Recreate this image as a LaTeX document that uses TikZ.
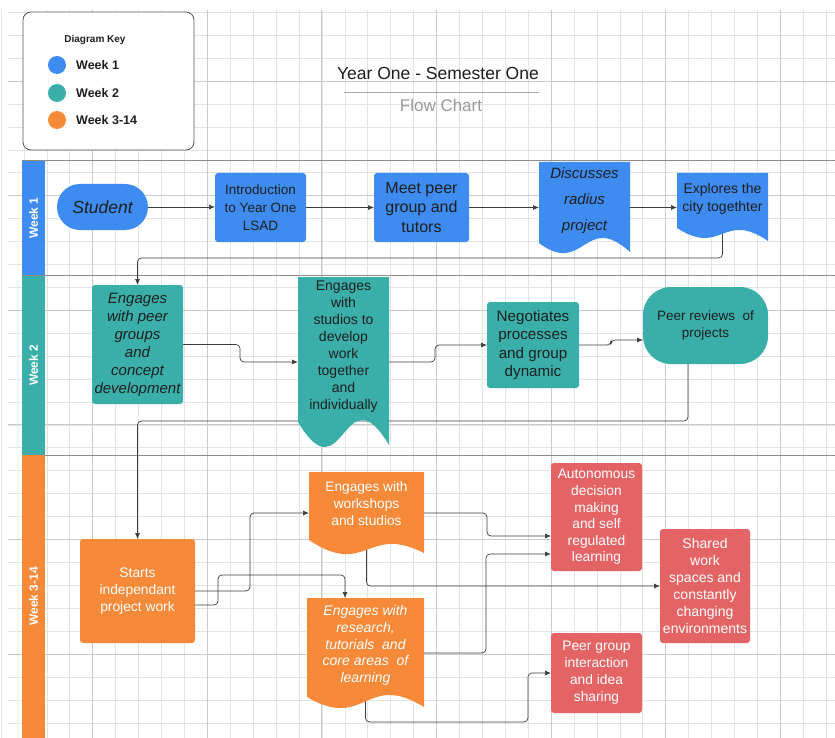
\documentclass[tikz,border=0pt]{standalone}
\usepackage{fontspec}
\setmainfont{Liberation Sans}
\usetikzlibrary{arrows.meta}
\pgfdeclarelayer{gridl}\pgfdeclarelayer{edges}\pgfdeclarelayer{shapes}
\pgfsetlayers{gridl,edges,shapes,main}
\definecolor{wkblue}{HTML}{3F8CF0}
\definecolor{wkteal}{HTML}{3AAFA9}
\definecolor{wkorange}{HTML}{F78A39}
\definecolor{wkred}{HTML}{E46365}
\definecolor{gridminor}{HTML}{E3E3E3}
\definecolor{gridmajor}{HTML}{CACACA}
\definecolor{lanegray}{HTML}{8C8C8C}
\definecolor{ink}{HTML}{1E1E1E}
\definecolor{edgec}{HTML}{3C3C3C}
\definecolor{keyedge}{HTML}{555555}
\definecolor{subgray}{HTML}{9A9A9A}
\definecolor{titleline}{HTML}{A8A8A8}
\newcommand\fs[2]{\fontsize{#1}{#2}\selectfont}
\newcommand\docfill[6]{\fill[#2] (#1.north west) -- (#1.north east) -- ([yshift=#3pt]#1.south east) .. controls ([yshift=#4pt]#1.south) and ([yshift=#5pt]#1.south) .. ([yshift=#6pt]#1.south west) -- cycle;}
\tikzset{
  box/.style={rectangle, rounded corners=3pt, inner sep=0pt, outer sep=0pt, align=center},
  docbox/.style={rectangle, inner sep=0pt, outer sep=0pt},
  txt/.style={inner sep=0pt, align=center},
  conn/.style={draw=edgec, line width=0.7pt, rounded corners=4pt, -{Latex[length=6pt,width=5pt]}},
  lane/.style={rectangle, inner sep=0pt, outer sep=0pt, text=white, font=\bfseries\fs{12}{14}, rotate=90},
  keytext/.style={anchor=west, inner sep=0pt, text=ink, font=\bfseries\fs{12.5}{14}},
  keydot/.style={circle, minimum size=18pt, inner sep=0pt}
}
\begin{document}
\begin{tikzpicture}[x=1pt,y=-1pt]
\useasboundingbox (0,0) rectangle (835,738);
\begin{pgfonlayer}{gridl}
\fill[white] (0,0) rectangle (835,738);
\foreach \i in {0,...,36} \draw[gridminor, line width=0.6pt] ({1+22.92*\i},10) -- ({1+22.92*\i},738);
\foreach \k in {0,...,31} \draw[gridminor, line width=0.6pt] (8,{12.3+22.92*\k}) -- (835,{12.3+22.92*\k});
\foreach \i in {4,9,...,34} \draw[gridmajor, line width=0.8pt] ({1+22.92*\i},10) -- ({1+22.92*\i},738);
\foreach \k in {3,8,...,28} \draw[gridmajor, line width=0.8pt] (8,{12.3+22.92*\k}) -- (835,{12.3+22.92*\k});
\draw[lanegray, line width=1pt] (22,161) -- (835,161);
\draw[lanegray, line width=1pt] (22,275.5) -- (835,275.5);
\draw[lanegray, line width=1pt] (22,455) -- (835,455);
\end{pgfonlayer}

% key
\node[draw=keyedge, fill=white, rounded corners=8pt, line width=0.8pt, minimum width=171pt, minimum height=138pt, inner sep=0pt] (key) at (108.5,81) {};
\node[inner sep=0pt, text=ink, font=\bfseries\fs{10}{12}] (keytitle) at (95,40) {Diagram Key};
\node[keydot, fill=wkblue] (k1) at (57,65) {};
\node[keydot, fill=wkteal] (k2) at (57,93) {};
\node[keydot, fill=wkorange] (k3) at (57,120) {};
\node[keytext] (k1t) at (76,65) {Week 1};
\node[keytext] (k2t) at (76,93) {Week 2};
\node[keytext] (k3t) at (76,120) {Week 3-14};

% title
\node[inner sep=0pt, text=ink, font=\fs{17.5}{20}] (title) at (438,73) {Year One - Semester One};
\draw[titleline, line width=1pt] (344,93) -- (539,93);
\node[inner sep=0pt, text=subgray, font=\fs{17}{20}] (subtitle) at (441,105) {Flow Chart};

% lanes
\node[lane, fill=wkblue, minimum width=114pt, minimum height=23pt] (lane1) at (33.5,218) {Week 1};
\node[lane, fill=wkteal, minimum width=179.5pt, minimum height=23pt] (lane2) at (33.5,365.25) {Week 2};
\node[lane, fill=wkorange, minimum width=283pt, minimum height=23pt] (lane3) at (33.5,596.5) {Week 3-14};

% week 1
\node[box, fill=wkblue, rounded corners=23pt, minimum width=91pt, minimum height=46pt, text=ink, font=\itshape\fs{17.5}{20}] (stud) at (102.5,207) {Student};
\node[box, fill=wkblue, minimum width=91pt, minimum height=69pt, text=ink, font=\fs{13.5}{18}] (intro) at (260.5,207.5) {Introduction\\to Year One\\LSAD};
\node[box, fill=wkblue, minimum width=95pt, minimum height=69pt, text=ink, font=\fs{16}{19.5}] (meet) at (421.5,207.5) {Meet peer\\group and\\tutors};
\node[docbox, minimum width=91pt, minimum height=91pt] (disc) at (584.5,207.5) {};
\node[txt, text=ink, font=\itshape\fs{15}{26}] (disc-t) at ([yshift=6.5pt]disc.center) {Discusses\\radius\\project};
\node[docbox, minimum width=91pt, minimum height=68pt] (expl) at (722.5,207) {};
\node[txt, text=ink, font=\fs{14}{18}] (expl-t) at ([yshift=8pt]expl.center) {Explores the\\city togethter};

% week 2
\node[box, fill=wkteal, minimum width=91pt, minimum height=119pt, text=ink, font=\itshape\fs{15}{18}] (peer) at (137.5,344.5) {Engages\\with peer\\groups\\and\\concept\\development};
\node[docbox, minimum width=91pt, minimum height=170pt] (studios) at (343.5,362) {};
\node[txt, text=ink, font=\fs{14}{17}] (studios-t) at ([yshift=15.5pt]studios.center) {Engages\\with\\studios to\\develop\\work\\together\\and\\individually};
\node[box, fill=wkteal, minimum width=92pt, minimum height=86pt, text=ink, font=\fs{15.2}{18.3}] (nego) at (533,345) {Negotiates\\processes\\and group\\dynamic};
\node[box, fill=wkteal, rounded corners=28pt, minimum width=125pt, minimum height=77pt, text=ink, font=\fs{13.5}{17}] (prev) at (705.5,325.5) {Peer reviews~ of\\projects};

% week 3-14
\node[box, fill=wkorange, minimum width=115pt, minimum height=104pt, text=white, font=\fs{13.8}{17}] (starts) at (137.5,591) {Starts\\independant\\project work};
\node[docbox, minimum width=115pt, minimum height=82pt] (works) at (366.5,513) {};
\node[txt, text=white, font=\fs{13.7}{17}] (works-t) at ([yshift=9pt]works.center) {Engages with\\workshops\\and studios};
\node[docbox, minimum width=117pt, minimum height=110pt] (research) at (365.5,653) {};
\node[txt, text=white, font=\itshape\fs{14}{16.75}] (research-t) at ([yshift=7.5pt]research.center) {Engages with\\research,\\tutorials~ and\\core areas~ of\\learning};
\node[box, fill=wkred, minimum width=91pt, minimum height=108pt, text=white, font=\fs{13.8}{16.6}] (auto) at (596.5,517) {Autonomous\\decision\\making\\and self\\regulated\\learning};
\node[box, fill=wkred, minimum width=90pt, minimum height=114pt, text=white, font=\fs{14}{17}] (shared) at (705,586) {Shared\\work\\spaces and\\constantly\\changing\\environments};
\node[box, fill=wkred, minimum width=91pt, minimum height=80pt, text=white, font=\fs{13.8}{17}] (pgi) at (596.5,673) {Peer group\\interaction\\and idea\\sharing};

\begin{pgfonlayer}{shapes}
\docfill{disc}{wkblue}{1}{42.2}{-24.1}{10}
\docfill{expl}{wkblue}{0}{31}{-16.2}{13}
\docfill{studios}{wkteal}{2}{78.1}{-51.1}{25}
\docfill{works}{wkorange}{1}{30.2}{-24.1}{14}
\docfill{research}{wkorange}{1}{37.2}{-23.5}{11}
\end{pgfonlayer}

\begin{pgfonlayer}{edges}
\draw[conn] (stud.east) -- (stud.east -| intro.west);
\draw[conn] (intro.east) -- (intro.east -| meet.west);
\draw[conn] (meet.east) -- (meet.east -| disc.west);
\draw[conn] (disc.east) -- (disc.east -| expl.west);
\draw[conn] (expl.center) |- (137.5,258) -- (peer.north);
\draw[conn] (peer.east) -| (240,362) -- (studios.west);
\draw[conn] (studios.east) -| (435,345) -- (nego.west);
\draw[conn] (nego.east) -| (611,340) -- ([yshift=-14.5pt]prev.west);
\draw[conn] ([xshift=-17.5pt]prev.center) |- (137.5,421) -- (starts.north);
\draw[conn] (starts.east) -- (250,591) |- (works.west);
\draw[conn] ([yshift=-14pt]starts.east) -| (218,575) -| ([xshift=-20.5pt]research.north);
\draw[conn] (works.east) -| (487,536) -- ([yshift=-19pt]auto.west);
\draw[conn] (works.center) |- (shared.west);
\draw[conn] (research.east) -| (486,554) -- ([yshift=-37pt]auto.west);
\draw[conn] (research.center) |- (528,722) |- (pgi.west);
\end{pgfonlayer}
\end{tikzpicture}
\end{document}
